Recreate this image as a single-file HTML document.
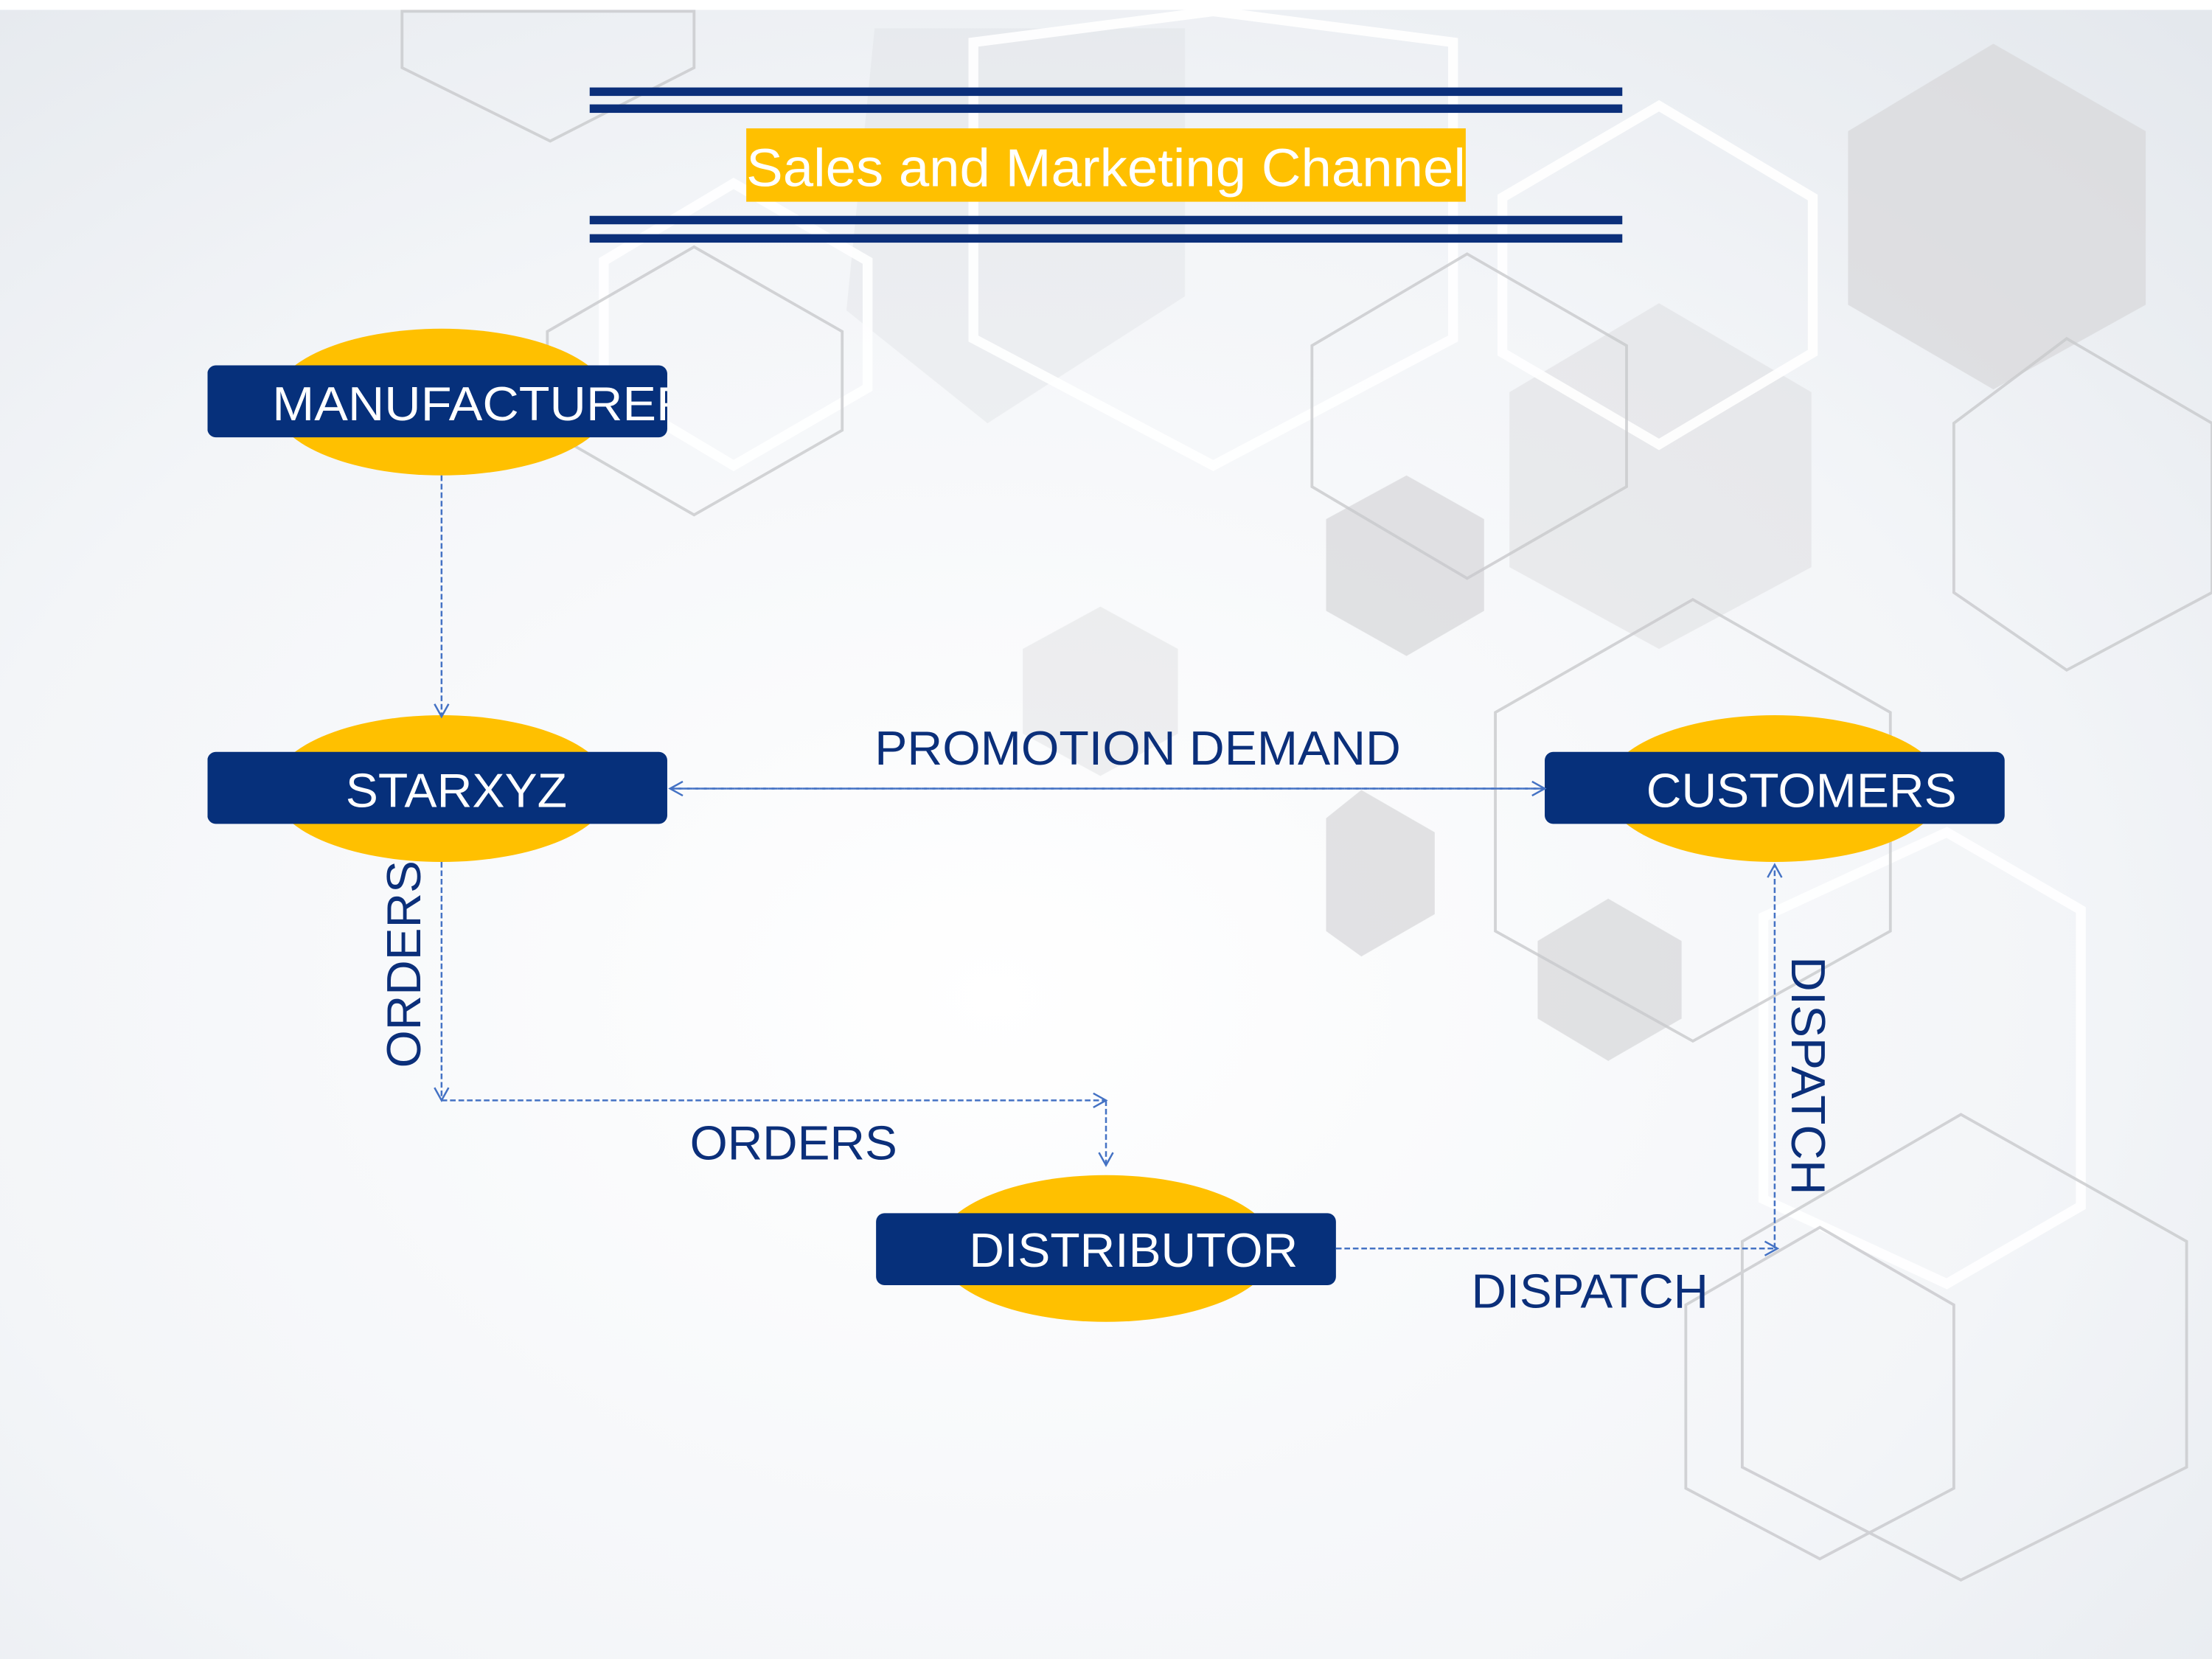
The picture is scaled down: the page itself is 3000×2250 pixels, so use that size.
<!DOCTYPE html>
<html><head><meta charset="utf-8"><style>html,body{margin:0;padding:0;background:#fff}svg{display:block}</style></head><body>
<svg width="3000" height="2250" viewBox="0 0 1568 1176" xmlns="http://www.w3.org/2000/svg" font-family="Liberation Sans, sans-serif">
<defs>
<radialGradient id="bg" cx="0.45" cy="0.6" r="0.8">
<stop offset="0" stop-color="#ffffff"/><stop offset="0.6" stop-color="#f3f5f8"/><stop offset="1" stop-color="#e4e8ed"/>
</radialGradient>
<marker id="ah" markerWidth="12" markerHeight="12" refX="10" refY="6" orient="auto" markerUnits="userSpaceOnUse"><path d="M1,1 L10,6 L1,11" fill="none" stroke="#4472c4" stroke-width="1.3"/></marker>
</defs>
<rect width="1568" height="1176" fill="url(#bg)"/>
<rect width="1568" height="7" fill="#fff"/>
<g fill="#d8d9db" opacity="0.75">
<polygon points="1413,31 1521,93 1521,216 1413,276 1310,216 1310,93"/>
<polygon points="997,337 1052,368 1052,433 997,465 940,433 940,368"/>
<polygon points="1140,637 1192,667 1192,722 1140,752 1090,722 1090,667"/>
<polygon points="965,560 1017,590 1017,648 965,678 940,660 940,580"/>
<polygon points="1176,215 1284,278 1284,402 1176,460 1070,402 1070,278" opacity="0.6"/>
<polygon points="780,430 835,460 835,520 780,550 725,520 725,460" opacity="0.5"/>
<polygon points="620,20 840,20 840,210 700,300 600,220" opacity="0.4"/>
</g>
<g fill="none" stroke="#fff" stroke-width="7" opacity="0.9">
<polygon points="860,8 1030,30 1030,240 860,330 690,240 690,30"/>
<polygon points="1176,75 1285,140 1285,250 1176,315 1065,250 1065,140"/>
<polygon points="1380,590 1475,645 1475,855 1380,910 1250,850 1250,650"/>
<polygon points="520,130 615,185 615,275 520,330 428,275 428,185"/>
</g>
<g fill="none" stroke="#c8c9cc" stroke-width="2" opacity="0.8">
<polygon points="390,8 492,8 492,48 390,100 285,48 285,8"/>
<polygon points="492,175 597,235 597,305 492,365 388,305 388,235"/>
<polygon points="1040,180 1153,245 1153,345 1040,410 930,345 930,245"/>
<polygon points="1200,425 1340,505 1340,660 1200,738 1060,660 1060,505"/>
<polygon points="1465,240 1568,300 1568,420 1465,475 1385,420 1385,300"/>
<polygon points="1390,790 1550,880 1550,1040 1390,1120 1235,1040 1235,880"/>
<polygon points="1290,870 1385,925 1385,1055 1290,1105 1195,1055 1195,925"/>
</g>
<g fill="#0b2f7a">
<rect x="418" y="62" width="732" height="6"/><rect x="418" y="74" width="732" height="6"/>
<rect x="418" y="153" width="732" height="6"/><rect x="418" y="166" width="732" height="6"/>
</g>
<rect x="529" y="91" width="510" height="52" fill="#ffc000"/>
<text x="784" y="132" font-size="38" fill="#fff" text-anchor="middle" textLength="510" lengthAdjust="spacingAndGlyphs">Sales and Marketing Channel</text>
<g fill="#ffc000">
<ellipse cx="313" cy="285" rx="120" ry="52"/><ellipse cx="313" cy="559" rx="120" ry="52"/>
<ellipse cx="1258" cy="559" rx="120" ry="52"/><ellipse cx="784" cy="885" rx="120" ry="52"/>
</g>
<g fill="#06307b">
<rect x="147" y="259" width="326" height="51" rx="6"/><rect x="147" y="533" width="326" height="51" rx="6"/>
<rect x="1095" y="533" width="326" height="51" rx="6"/><rect x="621" y="860" width="326" height="51" rx="6"/>
</g>
<g fill="#fff" font-size="34">
<svg x="147" y="259" width="326" height="51" overflow="hidden"><text x="46" y="39" font-size="34" fill="#fff" textLength="298" lengthAdjust="spacingAndGlyphs">MANUFACTURER</text></svg>
<text x="245" y="572" textLength="157" lengthAdjust="spacingAndGlyphs">STARXYZ</text>
<text x="1167" y="572" textLength="220" lengthAdjust="spacingAndGlyphs">CUSTOMERS</text>
<text x="687" y="898" textLength="233" lengthAdjust="spacingAndGlyphs">DISTRIBUTOR</text>
</g>
<g fill="none" stroke="#4472c4" stroke-width="1.3" stroke-dasharray="4,2">
<line x1="313" y1="337" x2="313" y2="508" marker-end="url(#ah)"/>
<line x1="1095" y1="559" x2="475" y2="559" marker-end="url(#ah)"/>
<line x1="475" y1="559" x2="1095" y2="559" marker-end="url(#ah)"/>
<line x1="313" y1="611" x2="313" y2="780" marker-end="url(#ah)"/>
<line x1="313" y1="780" x2="784" y2="780" marker-end="url(#ah)"/>
<line x1="784" y1="780" x2="784" y2="826" marker-end="url(#ah)"/>
<line x1="947" y1="885" x2="1260" y2="885" marker-end="url(#ah)"/>
<line x1="1258" y1="885" x2="1258" y2="613" marker-end="url(#ah)"/>
</g>
<g fill="#0b2f7a" font-size="34">
<text x="620" y="542" textLength="373" lengthAdjust="spacingAndGlyphs">PROMOTION DEMAND</text>
<text x="489" y="822" textLength="147" lengthAdjust="spacingAndGlyphs">ORDERS</text>
<text x="1043" y="927" textLength="168" lengthAdjust="spacingAndGlyphs">DISPATCH</text>
<text transform="translate(298,757) rotate(-90)" textLength="147" lengthAdjust="spacingAndGlyphs">ORDERS</text>
<text transform="translate(1270,678) rotate(90)" textLength="169" lengthAdjust="spacingAndGlyphs">DISPATCH</text>
</g>
</svg>
</body></html>
